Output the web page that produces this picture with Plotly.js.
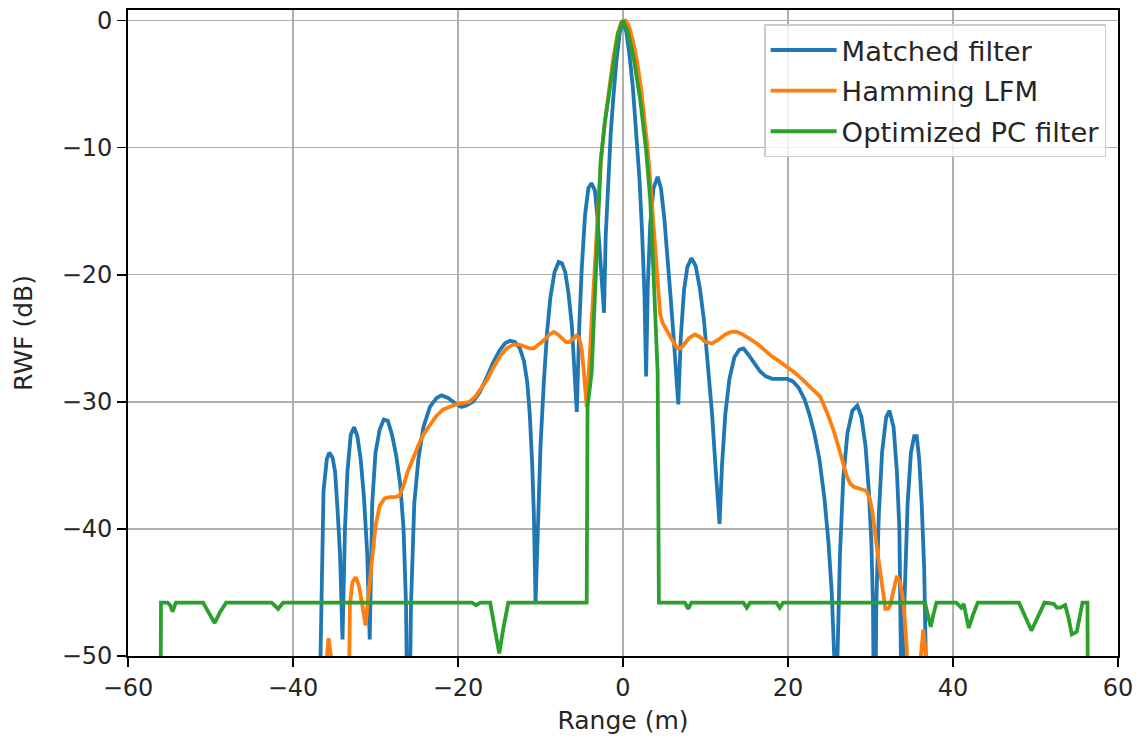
<!DOCTYPE html>
<html>
<head>
<meta charset="utf-8">
<script src="https://cdn.plot.ly/plotly-3.0.1.min.js"></script>
<style>html,body{margin:0;padding:0;background:#fff;}#chart{width:1140px;height:739px;}</style>
</head>
<body>
<div id="chart"></div>
<script>
// Matched filter (values below -50 dB are clipped by the axis)
const rangeMatched = [-37.0,-36.6,-36.3,-35.9,-35.6,-35.2,-34.9,-34.6,-34.3,-34.0,-33.7,-33.4,-33.0,-32.6,-32.2,-31.8,-31.4,-31.0,-30.7,-30.4,-30.0,-29.5,-29.0,-28.5,-28.0,-27.5,-27.0,-26.6,-26.3,-26.0,-25.7,-25.3,-24.8,-24.2,-23.4,-22.6,-22.0,-21.2,-20.4,-19.6,-19.0,-18.2,-17.4,-16.6,-15.8,-15.0,-14.3,-13.7,-13.1,-12.5,-12.0,-11.6,-11.3,-11.0,-10.8,-10.6,-10.3,-10.0,-9.6,-9.2,-8.8,-8.3,-7.8,-7.4,-7.0,-6.6,-6.2,-5.9,-5.6,-5.3,-5.0,-4.6,-4.2,-3.8,-3.4,-3.1,-2.8,-2.5,-2.3,-2.1,-1.8,-1.5,-1.2,-0.8,-0.4,0,0.4,0.8,1.2,1.6,2.0,2.3,2.6,2.8,3.0,3.3,3.7,4.2,4.6,5.0,5.4,5.8,6.2,6.5,6.7,7.0,7.4,7.8,8.3,8.8,9.3,9.8,10.3,10.8,11.2,11.5,11.7,12.0,12.4,12.9,13.5,14.1,14.6,15.2,15.9,16.6,17.3,18.1,19.0,19.9,20.6,21.3,22.0,22.6,23.2,23.8,24.4,24.9,25.3,25.6,25.8,26.0,26.3,26.7,27.2,27.8,28.4,28.9,29.4,29.8,30.1,30.3,30.5,30.7,31.0,31.4,31.9,32.3,32.8,33.2,33.5,33.7,33.9,34.1,34.5,34.9,35.3,35.6,35.9,36.2,36.5,36.7,36.9];
const rwfMatched = [-62,-45,-37,-34.5,-34.0,-34.4,-35.5,-38.5,-42,-48.7,-40,-35.5,-32.6,-32.0,-32.7,-34.5,-37.5,-42,-48.7,-38,-34,-32.2,-31.4,-31.5,-32.6,-34.2,-36.5,-40,-46,-62,-46,-38,-34.5,-32,-30.4,-29.7,-29.5,-29.7,-30.1,-30.4,-30.3,-30.0,-29.3,-28.2,-27.0,-26.0,-25.4,-25.2,-25.3,-25.8,-26.8,-28.5,-31,-35,-39,-45.8,-39,-33.5,-28.5,-24.5,-21.8,-19.8,-19.0,-19.1,-19.8,-21.5,-24,-27,-30.8,-24,-19.5,-15.3,-13.2,-12.8,-13.4,-15.5,-18.6,-21.5,-23.0,-17,-12.5,-9.0,-6.3,-3.2,-1.0,0,-0.9,-2.8,-5.3,-8.5,-12.5,-16.5,-21.5,-28.0,-21,-16,-13.2,-12.3,-13.2,-15.5,-18.5,-22,-25.5,-28,-30.2,-25,-21.2,-19.4,-18.7,-19.3,-21,-23.5,-27,-31,-35,-38,-39.6,-35,-31,-28.2,-26.5,-25.9,-25.8,-26.3,-27.0,-27.6,-28.0,-28.2,-28.2,-28.2,-28.4,-28.9,-29.8,-31.0,-32.5,-34.5,-37.5,-41,-45,-50,-62,-50,-42,-36,-32.5,-30.7,-30.3,-31.2,-33.5,-37,-41,-46,-62,-46,-39,-34,-31.2,-30.7,-32,-35.5,-40,-46,-62,-46,-38,-34,-32.7,-32.7,-34.5,-38,-43,-50,-62];

// Hamming LFM
const rangeHamming = [-36.4,-36.0,-35.7,-35.4,-35.1,-33.4,-33.1,-32.8,-32.4,-32.0,-31.6,-31.2,-30.9,-30.5,-30.0,-29.5,-28.9,-28.3,-27.7,-27.1,-26.6,-26.1,-25.5,-25.0,-24.4,-23.8,-23.2,-22.6,-21.8,-21.0,-20.2,-19.4,-18.6,-17.9,-17.2,-16.5,-15.7,-14.9,-14.1,-13.3,-12.6,-11.9,-11.3,-10.8,-10.2,-9.5,-8.9,-8.4,-7.9,-7.4,-6.9,-6.5,-6.0,-5.6,-5.3,-5.0,-4.7,-4.4,-4.0,-3.5,-3.1,-2.7,-2.2,-1.7,-1.2,-0.7,-0.2,0.3,0.7,1.2,1.7,2.2,2.6,3.0,3.3,3.6,3.9,4.2,4.5,4.8,5.2,5.6,6.1,6.6,7.0,7.5,8.0,8.7,9.3,10.0,10.8,11.6,12.4,13.1,13.8,14.5,15.3,16.2,17.1,18.0,18.9,19.8,20.6,21.5,22.3,23.1,23.9,24.7,25.5,26.1,26.7,27.1,27.5,28.0,28.5,29.0,29.5,29.9,30.2,30.7,31.3,31.8,32.1,32.4,32.8,33.2,33.6,34.0,34.4,34.6,35.8,36.1,36.4,36.7,37.0];
const rwfHamming = [-62,-51,-48.6,-50,-62,-62,-46,-44.2,-43.8,-44.5,-46,-47.6,-45.5,-42.8,-39.8,-38.2,-37.6,-37.5,-37.5,-37.4,-36.6,-35.5,-34.6,-33.7,-32.8,-32.2,-31.6,-31.1,-30.6,-30.4,-30.2,-30.1,-30.0,-29.6,-29.0,-28.3,-27.3,-26.4,-25.8,-25.5,-25.5,-25.7,-25.8,-25.8,-25.5,-25.1,-24.7,-24.5,-24.7,-25.0,-25.3,-25.3,-25.0,-24.8,-25.0,-25.9,-28,-30.4,-26,-20,-15,-11.2,-8.0,-5.4,-3.1,-1.2,-0.1,0,-0.4,-1.6,-3.2,-5.4,-7.6,-10.2,-12.6,-15.3,-18.5,-21.3,-23.1,-23.8,-24.3,-24.7,-25.3,-25.8,-25.8,-25.4,-25.0,-24.7,-24.9,-25.3,-25.4,-25.1,-24.7,-24.5,-24.5,-24.7,-25.0,-25.4,-25.9,-26.4,-26.8,-27.2,-27.6,-28.1,-28.6,-29.1,-29.6,-30.8,-32.2,-33.5,-34.8,-35.8,-36.4,-36.7,-36.8,-36.9,-37.0,-37.6,-38.5,-41.1,-44.2,-46.3,-46.3,-46.0,-44.8,-43.7,-44.2,-45.8,-49.5,-62,-62,-50,-47.9,-50,-62];

// Optimized PC filter
const rangeOptimized = [-56.1,-56.0,-55.2,-54.9,-54.6,-54.2,-50.9,-50.2,-49.5,-48.8,-48.1,-42.6,-41.8,-41.2,-18.3,-17.8,-17.3,-16.1,-15.6,-15.0,-14.5,-13.9,-4.4,-4.3,-3.8,-3.4,-3.1,-2.7,-2.2,-1.8,-1.2,-0.6,0,0.6,1.3,2.1,2.8,3.3,3.7,4.2,4.35,7.5,7.9,8.3,14.6,15.0,15.4,18.6,19.0,19.4,36.6,37.0,37.3,37.6,38.0,40.4,41.0,41.3,41.6,41.9,42.4,43.0,48.0,48.8,49.5,50.3,51.1,52.2,52.6,53.0,53.6,54.0,54.4,55.0,55.3,55.7,56.3,56.4];
const rwfOptimized = [-62,-45.8,-45.8,-46.0,-46.5,-45.8,-45.8,-46.6,-47.4,-46.5,-45.8,-45.8,-46.3,-45.8,-45.8,-46.0,-45.8,-45.8,-47.8,-49.8,-47.8,-45.8,-45.8,-30.4,-27.7,-22,-16.5,-11,-8,-6.3,-3.4,-1.0,0,-0.9,-3.0,-6.3,-10.2,-14.1,-19.9,-27.7,-45.8,-45.8,-46.3,-45.8,-45.8,-46.2,-45.8,-45.8,-46.2,-45.8,-45.8,-46.8,-47.7,-46.8,-45.8,-45.8,-46.2,-45.9,-46.7,-47.8,-46.8,-45.8,-45.8,-46.9,-48.0,-46.9,-45.8,-45.9,-46.2,-46.2,-46.0,-47.0,-48.3,-48.1,-47.0,-45.8,-45.8,-62];

const seriesNames = ['Matched filter', 'Hamming LFM', 'Optimized PC filter'];
const seriesColors = ['#1f77b4', '#ff7f0e', '#2ca02c'];
const xTicks = [-60, -40, -20, 0, 20, 40, 60];
const yTicks = [-50, -40, -30, -20, -10, 0];

const xs = [rangeMatched, rangeHamming, rangeOptimized];
const ys = [rwfMatched, rwfHamming, rwfOptimized];

const traces = xs.map((x, i) => ({
  type: 'scatter', mode: 'lines', x: x, y: ys[i], name: seriesNames[i],
  legendgroup: 'g' + i,
  line: {color: seriesColors[i], width: 3.8}
}));

const font = 'DejaVu Sans, sans-serif';
const axisCommon = {
  showgrid: true, gridcolor: '#b0b0b0', gridwidth: 1.6,
  zeroline: false, showline: true, mirror: true, linecolor: '#000', linewidth: 1.8,
  ticks: 'outside', ticklen: 9, tickwidth: 1.8, tickcolor: '#000',
  tickfont: {family: font, size: 24, color: '#262626'}
};

const layout = {
  width: 1140, height: 739,
  margin: {l: 128, r: 22, t: 10, b: 83},
  paper_bgcolor: '#fff', plot_bgcolor: '#fff',
  showlegend: true,
  xaxis: Object.assign({}, axisCommon, {
    range: [-60, 60], tickmode: 'array', tickvals: xTicks,
    title: {text: 'Range (m)', font: {family: font, size: 25, color: '#262626'}, standoff: 11}
  }),
  yaxis: Object.assign({}, axisCommon, {
    range: [-50, 0.82], tickmode: 'array', tickvals: yTicks,
    title: {text: 'RWF (dB)', font: {family: font, size: 25, color: '#262626'}, standoff: 22}
  }),
  legend: {
    x: 0.988, y: 0.978, xanchor: 'right', yanchor: 'top',
    bgcolor: 'rgba(255,255,255,0.8)', bordercolor: '#cccccc', borderwidth: 1.5,
    font: {family: font, size: 27.4, color: '#262626'},
    traceorder: 'grouped', tracegroupgap: 2, itemwidth: 66
  }
};

Plotly.newPlot('chart', traces, layout, {displayModeBar: false, staticPlot: true});
</script>
</body>
</html>
